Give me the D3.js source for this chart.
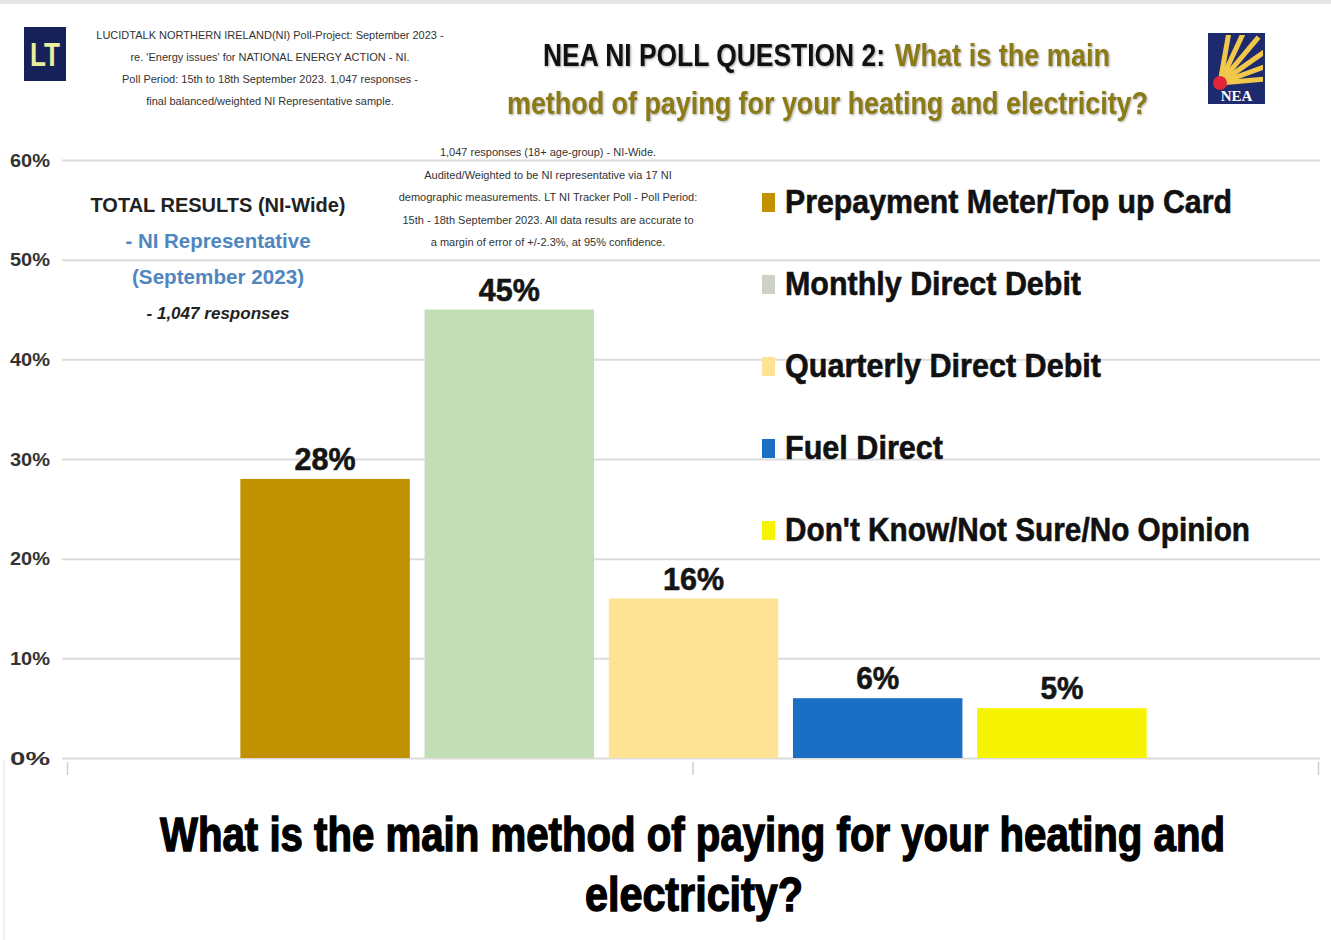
<!DOCTYPE html>
<html lang="en">
<head>
    <meta charset="UTF-8">
    <title>NEA NI Poll Question 2</title>
    <script src="https://cdnjs.cloudflare.com/ajax/libs/d3/7.8.5/d3.min.js"></script>
    <style>
        * { margin: 0; padding: 0; box-sizing: border-box; }
        body { background: #ffffff; width: 1331px; height: 940px; overflow: hidden; }
        svg { display: block; }
        .narrow { font-family: 'Liberation Sans Narrow', 'Arial Narrow', 'Liberation Sans', sans-serif; font-weight: bold; }
    </style>
</head>
<body>
    <svg id="chart" width="1331" height="940"></svg>

    <script>
        // Poll data
        const categories = [
            'Prepayment Meter/Top up Card',
            'Monthly Direct Debit',
            'Quarterly Direct Debit',
            'Fuel Direct',
            "Don't Know/Not Sure/No Opinion"
        ];
        const values = [0.28, 0.45, 0.16, 0.06, 0.05];
        const barColors = ['#c29100', '#c3deb5', '#fde393', '#1a6ec4', '#f6f400'];
        const legendColors = ['#c29100', '#cdd2c6', '#fde393', '#1a6ec4', '#f6f400'];
        const legendWidths = [447, 296, 316, 158, 465];
        const yTicks = [0, 0.1, 0.2, 0.3, 0.4, 0.5, 0.6];

        const headerNote = [
            'LUCIDTALK NORTHERN IRELAND(NI) Poll-Project: September 2023 -',
            "re. 'Energy issues' for NATIONAL ENERGY ACTION - NI.",
            'Poll Period: 15th to 18th September 2023. 1,047 responses -',
            'final balanced/weighted NI Representative sample.'
        ];
        const methodNote = [
            '1,047 responses (18+ age-group) - NI-Wide.',
            'Audited/Weighted to be NI representative via 17 NI',
            'demographic measurements. LT NI Tracker Poll - Poll Period:',
            '15th - 18th September 2023. All data results are accurate to',
            'a margin of error of +/-2.3%, at 95% confidence.'
        ];

        const svg = d3.select('#chart');
        const plot = { left: 62, right: 1320, top: 160, bottom: 758 };

        const y = d3.scaleLinear()
            .domain([0, 0.6])
            .range([plot.bottom, plot.top]);

        const x = d3.scaleBand()
            .domain(categories)
            .range([233, 1154])
            .paddingInner(0.08)
            .paddingOuter(0.04);

        // squeeze wide fallback font into the condensed widths of the original
        function fit(sel, w) {
            sel.attr('textLength', w).attr('lengthAdjust', 'spacingAndGlyphs');
        }

        // thin top edge like the screenshot
        svg.append('rect')
            .attr('x', 0).attr('y', 0)
            .attr('width', 1331).attr('height', 4)
            .attr('fill', '#e6e6e6');

        // gridlines + y axis
        const yAxis = svg.append('g')
            .attr('transform', `translate(${plot.left},0)`)
            .call(d3.axisLeft(y)
                .tickValues(yTicks)
                .tickFormat(d3.format('.0%'))
                .tickSize(-(plot.right - plot.left))
                .tickPadding(12));
        yAxis.select('.domain').remove();
        yAxis.selectAll('line')
            .attr('stroke', '#dcdcdc')
            .attr('stroke-width', 2);
        yAxis.selectAll('text')
            .attr('class', 'narrow')
            .attr('fill', '#333')
            .style('font-size', '19px')
            .attr('dy', '0.32em')
            .attr('textLength', 40)
            .attr('lengthAdjust', 'spacingAndGlyphs');

        // category axis tick marks under the plot
        const xTickScale = d3.scaleLinear().domain([0, 1]).range([67, 1318]);
        const xAxis = svg.append('g')
            .attr('transform', `translate(0,${plot.bottom + 4})`)
            .call(d3.axisBottom(xTickScale).tickValues([0, 0.5, 1]).tickSize(13).tickFormat(''));
        xAxis.select('.domain').remove();
        xAxis.selectAll('line').attr('stroke', '#cfcfcf').attr('stroke-width', 1.5);

        svg.append('line')
            .attr('x1', 4).attr('x2', 4)
            .attr('y1', plot.bottom + 2).attr('y2', 940)
            .attr('stroke', '#e0e0e0');

        // bars
        svg.selectAll('rect.bar')
            .data(values)
            .enter()
            .append('rect')
            .attr('class', 'bar')
            .attr('x', (d, i) => x(categories[i]))
            .attr('width', x.bandwidth())
            .attr('y', d => y(d))
            .attr('height', d => y(0) - y(d))
            .attr('fill', (d, i) => barColors[i]);

        // value labels
        svg.selectAll('text.val')
            .data(values)
            .enter()
            .append('text')
            .attr('class', 'val narrow')
            .attr('x', (d, i) => x(categories[i]) + x.bandwidth() / 2)
            .attr('y', d => y(d) - 9)
            .attr('text-anchor', 'middle')
            .attr('fill', '#151515')
            .attr('stroke', '#151515')
            .attr('stroke-width', 0.6)
            .style('font-size', '32px')
            .text(d => Math.round(d * 100) + '%')
            .each(function (d) {
                d3.select(this).attr('textLength', d >= 0.1 ? 61 : 43)
                    .attr('lengthAdjust', 'spacingAndGlyphs');
            });

        // legend
        const legend = svg.append('g').attr('transform', 'translate(762,0)');
        categories.forEach((c, i) => {
            const cy = 201 + i * 82;
            legend.append('rect')
                .attr('x', 0).attr('y', cy - 8)
                .attr('width', 13).attr('height', 19)
                .attr('fill', legendColors[i]);
            legend.append('text')
                .attr('class', 'narrow')
                .attr('x', 23).attr('y', cy + 12)
                .attr('fill', '#111')
                .attr('stroke', '#111')
                .attr('stroke-width', 0.6)
                .style('font-size', '34px')
                .text(c)
                .call(fit, legendWidths[i]);
        });

        // LT logo
        svg.append('rect')
            .attr('x', 24).attr('y', 27)
            .attr('width', 42).attr('height', 54)
            .attr('fill', '#16215a');
        svg.append('text')
            .attr('class', 'narrow')
            .attr('x', 45).attr('y', 66)
            .attr('text-anchor', 'middle')
            .style('font-size', '34px')
            .attr('fill', '#e9ef9a')
            .text('LT')
            .call(fit, 30);

        // header note
        svg.append('g').selectAll('text')
            .data(headerNote)
            .enter()
            .append('text')
            .attr('x', 270)
            .attr('y', (d, i) => 39 + i * 22)
            .attr('text-anchor', 'middle')
            .style('font-family', "'Liberation Sans Narrow', 'Arial Narrow', sans-serif")
            .style('font-size', '11px')
            .attr('fill', '#333')
            .text(d => d);

        // title
        const title = svg.append('text')
            .attr('class', 'narrow')
            .style('font-size', '32px')
            .style('filter', 'drop-shadow(1px 1px 1px rgba(0,0,0,0.35))');
        title.append('tspan')
            .attr('x', 543).attr('y', 66)
            .attr('fill', '#111')
            .text('NEA NI POLL QUESTION 2:')
            .call(fit, 342);
        title.append('tspan')
            .attr('x', 895).attr('y', 66)
            .attr('fill', '#8c7a14')
            .text('What is the main')
            .call(fit, 215);
        title.append('tspan')
            .attr('x', 507).attr('y', 114)
            .attr('fill', '#8c7a14')
            .text('method of paying for your heating and electricity?')
            .call(fit, 641);

        // NEA logo
        const nea = svg.append('g').attr('transform', 'translate(1208,33)');
        nea.append('rect').attr('width', 57).attr('height', 71).attr('fill', '#1d2a6e');
        svg.append('clipPath').attr('id', 'neaClip')
            .append('rect').attr('x', 2).attr('y', 2).attr('width', 53).attr('height', 50);
        const rays = [0, 1, 2, 3, 4, 5];
        const ang = d3.scaleLinear().domain([0, 5]).range([-80, -5]);
        rays.forEach(r => {
            const a = ang(r) * Math.PI / 180;
            nea.append('line')
                .attr('x1', 12).attr('y1', 50)
                .attr('x2', 12 + 60 * Math.cos(a)).attr('y2', 50 + 60 * Math.sin(a))
                .attr('stroke', '#f2c84a').attr('stroke-width', 5)
                .attr('clip-path', 'url(#neaClip)');
        });
        nea.append('circle').attr('cx', 12).attr('cy', 50).attr('r', 7).attr('fill', '#e2263a');
        nea.append('text')
            .attr('x', 28.5).attr('y', 68)
            .attr('text-anchor', 'middle')
            .style('font-family', "'Liberation Serif', serif")
            .style('font-weight', 'bold')
            .style('font-size', '15px')
            .attr('fill', '#ffffff')
            .text('NEA');

        // info block on the left
        const info = svg.append('g').attr('class', 'narrow').attr('text-anchor', 'middle');
        info.append('text').attr('x', 218).attr('y', 212)
            .style('font-size', '21px').attr('fill', '#222')
            .text('TOTAL RESULTS (NI-Wide)').call(fit, 255);
        info.append('text').attr('x', 218).attr('y', 248)
            .style('font-size', '21px').attr('fill', '#4f86bf')
            .text('- NI Representative').call(fit, 185);
        info.append('text').attr('x', 218).attr('y', 284)
            .style('font-size', '21px').attr('fill', '#4f86bf')
            .text('(September 2023)').call(fit, 172);
        info.append('text').attr('x', 218).attr('y', 319)
            .style('font-size', '16px').style('font-style', 'italic').attr('fill', '#222')
            .text('- 1,047 responses').call(fit, 143);

        // methodology note
        svg.append('g').selectAll('text')
            .data(methodNote)
            .enter()
            .append('text')
            .attr('x', 548)
            .attr('y', (d, i) => 156 + i * 22.5)
            .attr('text-anchor', 'middle')
            .style('font-family', "'Liberation Sans Narrow', 'Arial Narrow', sans-serif")
            .style('font-size', '11px')
            .attr('fill', '#333')
            .text(d => d);

        // bottom question
        const q = svg.append('text')
            .attr('class', 'narrow')
            .attr('fill', '#000')
            .attr('stroke', '#000')
            .attr('stroke-width', 1.4)
            .style('font-size', '48px');
        q.append('tspan')
            .attr('x', 160).attr('y', 851)
            .text('What is the main method of paying for your heating and')
            .call(fit, 1065);
        q.append('tspan')
            .attr('x', 585).attr('y', 911)
            .text('electricity?')
            .call(fit, 218);
    </script>
</body>
</html>
